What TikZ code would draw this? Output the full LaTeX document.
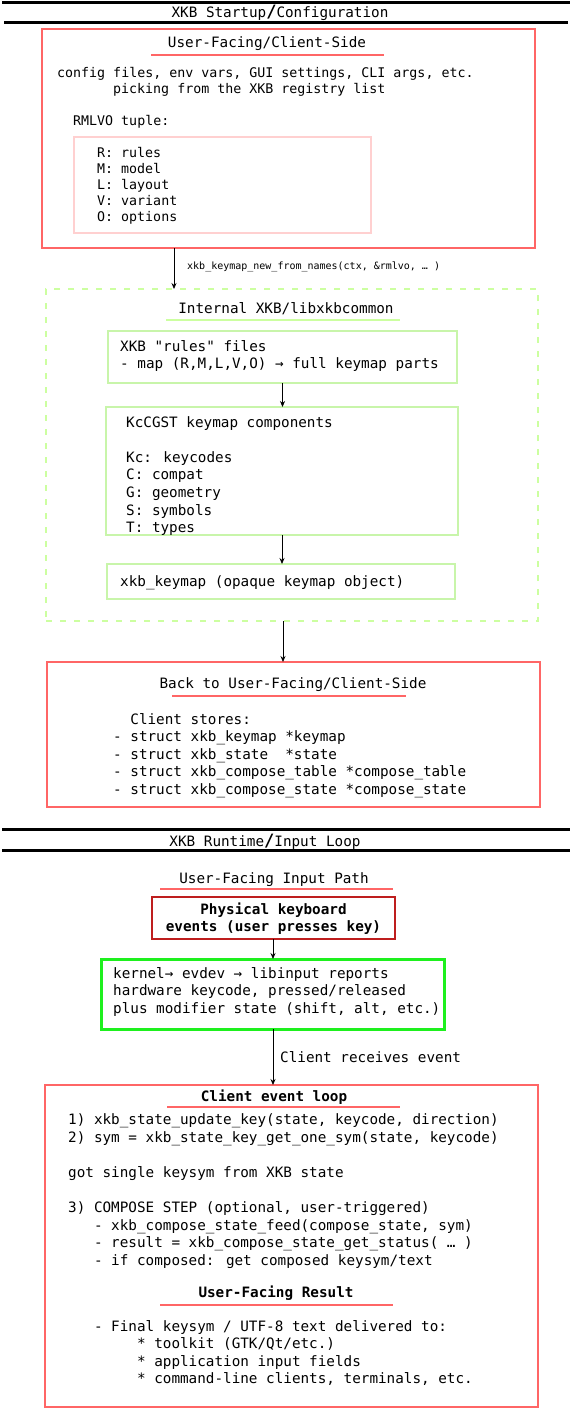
\documentclass[tikz,border=0pt]{standalone}
\usepackage{fontspec}
\newfontfamily\mono{DejaVu Sans Mono}
\usetikzlibrary{arrows.meta}
\definecolor{boxred}{RGB}{255,102,102}
\definecolor{pinkbox}{RGB}{255,208,208}
\definecolor{lightgreen}{RGB}{204,255,160}
\definecolor{innergreen}{RGB}{200,245,170}
\definecolor{darkred}{RGB}{190,30,30}
\definecolor{brightgreen}{RGB}{30,240,30}
\tikzset{
  fM/.style={font=\mono\fontsize{14.3}{17.6}\selectfont, inner sep=0pt, yshift=-1.5pt},
  fS/.style={font=\mono\fontsize{13.3}{16}\selectfont, inner sep=0pt, yshift=-1.5pt},
  fXS/.style={font=\mono\fontsize{10}{12}\selectfont, inner sep=0pt, yshift=-1pt},
  lft/.style={anchor=west, align=left},
  sepline/.style={line width=3pt, black},
  boxbase/.style={inner sep=0pt, outer sep=0pt, fill=none},
  redbox/.style={boxbase, draw=boxred, line width=1.5pt},
  pinkframe/.style={boxbase, draw=pinkbox, line width=1.5pt},
  greendash/.style={boxbase, draw=lightgreen, line width=2.5pt, dash pattern=on 6pt off 8pt},
  greenbox/.style={boxbase, draw=innergreen, line width=1.5pt},
  darkredbox/.style={boxbase, draw=darkred, line width=2pt},
  brightbox/.style={boxbase, draw=brightgreen, line width=3pt},
  redline/.style={draw=boxred, line width=2pt},
  greenline/.style={draw=lightgreen, line width=2pt},
  arr/.style={-{Stealth[length=6pt,width=5pt]}, line width=0.8pt, black},
}
\newcommand{\bigslash}{{\bfseries\fontsize{17}{17}\selectfont/}}
\begin{document}
\begin{tikzpicture}[x=1pt,y=-1pt]
\useasboundingbox (0,0) rectangle (572,1409);

% ---------- separator 1
\draw[sepline] (2,2) -- (570,2);
\draw[sepline] (4,22) -- (568,22);
\node[fM] (sep1) at (280,11) {XKB Startup\bigslash Configuration};

% ---------- box 1
\node[redbox, minimum width=493pt, minimum height=219pt] (b1) at (288.5,138.5) {};
\node[fM] (b1t) at (267,42) {User-Facing/Client-Side};
\draw[redline] (151,55) -- (384,55);
\node[fS, lft] (cfg1) at (57,72) {config files, env vars, GUI settings, CLI args, etc.};
\node[fS, lft] (cfg2) at (113,88) {picking from the XKB registry list};
\node[fS, lft] (rmlvo) at (73,120) {RMLVO tuple:};
\node[pinkframe, minimum width=297pt, minimum height=96pt] (pink) at (222.5,185) {};
\node[fS, lft] (rmlvol) at (97,184) {R: rules\\M: model\\L: layout\\V: variant\\O: options};

% ---------- arrow 1
\coordinate (a1x) at (174,0);
\node[greendash, minimum width=492pt, minimum height=332pt] (g) at (292,455) {};
\draw[arr] (b1.south -| a1x) -- (g.north -| a1x);
\node[fXS, lft] (a1l) at (187,266) {xkb\_keymap\_new\_from\_names(ctx, \&rmlvo, … )};

% ---------- internal
\node[fM] (gt) at (286,307) {Internal XKB/libxkbcommon};
\draw[greenline] (166,320) -- (400,320);
\node[greenbox, minimum width=349pt, minimum height=52pt] (rules) at (282.5,357) {};
\node[fM, lft] (rulest) at (120,354.5) {XKB "rules" files\\- map (R,M,L,V,O) → full keymap parts};
\node[greenbox, minimum width=352pt, minimum height=128pt] (kc) at (282,471) {};
\node[fM, lft] (kct) at (126,474.5) {KcCGST keymap components\\~\\Kc: keycodes\\C: compat\\G: geometry\\S: symbols\\T: types};
\node[greenbox, minimum width=348pt, minimum height=35pt] (km) at (281,581.5) {};
\node[fM, lft] (kmt) at (120,581) {xkb\_keymap (opaque keymap object)};
\draw[arr] (rules.south) -- (rules.south |- kc.north);
\draw[arr] (kc.south) -- (kc.south |- km.north);

% ---------- back to client
\node[redbox, minimum width=493pt, minimum height=145pt] (back) at (293.5,734.5) {};
\coordinate (a4x) at (283,0);
\draw[arr] (g.south -| a4x) -- (back.north -| a4x);
\node[fM] (backt) at (293,683) {Back to User-Facing/Client-Side};
\draw[redline] (172,696) -- (406,696);
\node[fM, lft] (backl) at (113,754) {\ \ Client stores:\\- struct xkb\_keymap *keymap\\- struct xkb\_state\ \ *state\\- struct xkb\_compose\_table *compose\_table\\- struct xkb\_compose\_state *compose\_state};

% ---------- separator 2
\draw[sepline] (2,829) -- (570,829);
\draw[sepline] (2,850) -- (570,850);
\node[fM] (sep2) at (265,840) {XKB Runtime\bigslash Input Loop};

% ---------- input path
\node[fM] (ipt) at (274,878) {User-Facing Input Path};
\draw[redline] (160,889) -- (393,889);
\node[darkredbox, minimum width=243pt, minimum height=42pt] (phys) at (273.5,918) {};
\node[fM, font=\mono\bfseries\fontsize{14.3}{17}\selectfont, align=center] (physt) at (273.5,917.5) {Physical keyboard\\events (user presses key)};
\node[brightbox, minimum width=343pt, minimum height=70pt] (kern) at (272.5,994) {};
\node[fM, lft] (kernt) at (113,990.5) {kernel→ evdev → libinput reports\\hardware keycode, pressed/released\\plus modifier state (shift, alt, etc.)};
\coordinate (a5x) at (273,0);
\draw[arr] (phys.south -| a5x) -- (kern.north -| a5x);

% ---------- client event loop
\node[redbox, minimum width=493pt, minimum height=322pt] (loop) at (291.5,1246) {};
\draw[arr] (kern.south -| a5x) -- (loop.north -| a5x);
\node[fM, lft] (recv) at (280,1056) {Client receives event};
\node[fM, font=\mono\bfseries\fontsize{14.3}{17.6}\selectfont] (loopt) at (274,1096) {Client event loop};
\draw[redline] (167,1107) -- (400,1107);
\node[fM, lft] (steps) at (68,1189.5) {1) xkb\_state\_update\_key(state, keycode, direction)\\2) sym = xkb\_state\_key\_get\_one\_sym(state, keycode)\\~\\got single keysym from XKB state\\~\\3) COMPOSE STEP (optional, user-triggered)\\\ \ \ - xkb\_compose\_state\_feed(compose\_state, sym)\\\ \ \ - result = xkb\_compose\_state\_get\_status( … )\\\ \ \ - if composed: get composed keysym/text};
\node[fM, font=\mono\bfseries\fontsize{14.3}{17.6}\selectfont] (rest) at (276,1292) {User-Facing Result};
\draw[redline] (160,1305) -- (393,1305);
\node[fM, lft] (resl) at (68,1351.5) {\ \ \ - Final keysym / UTF-8 text delivered to:\\\ \ \ \ \ \ \ \ * toolkit (GTK/Qt/etc.)\\\ \ \ \ \ \ \ \ * application input fields\\\ \ \ \ \ \ \ \ * command-line clients, terminals, etc.};
\end{tikzpicture}
\end{document}
